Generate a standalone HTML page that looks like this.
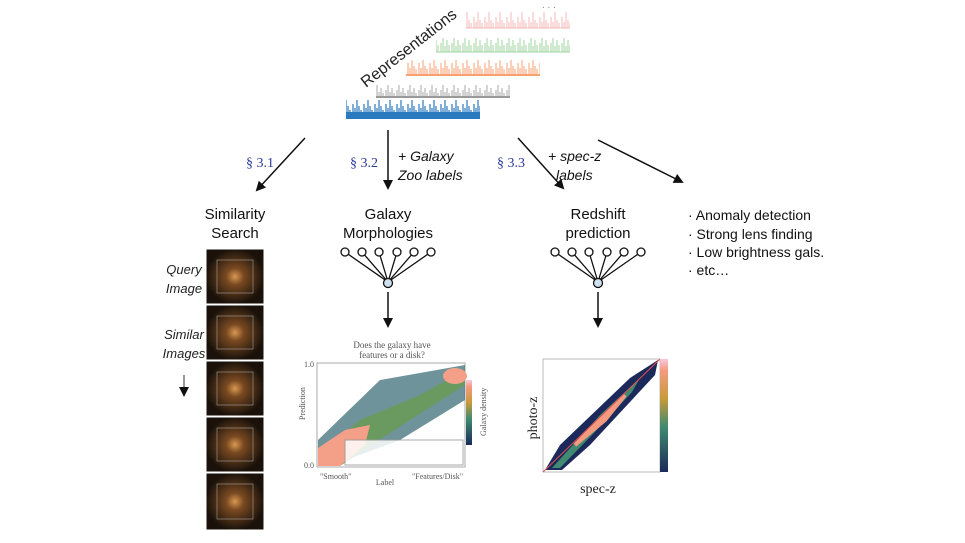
<!DOCTYPE html><html><head><style>body{margin:0;background:#fff}svg{display:block}</style></head><body>
<svg width="965" height="543" viewBox="0 0 965 543" xmlns="http://www.w3.org/2000/svg" font-family="Liberation Sans, sans-serif">
<defs>
<marker id="a" markerWidth="10" markerHeight="10" refX="8" refY="5" orient="auto" markerUnits="userSpaceOnUse"><path d="M0,0 L10,5 L0,10 z" fill="#111"/></marker>
<pattern id="p1" x="0" y="8" width="11" height="20" patternUnits="userSpaceOnUse"><path d="M1,20V9M3,20V14M5,20V4M7,20V12M9,20V15" stroke="#f4b8b8" stroke-width="1"/></pattern>
<pattern id="p2" x="0" y="32" width="11" height="20" patternUnits="userSpaceOnUse"><path d="M1,20V11M3,20V6M5,20V14M7,20V8M9,20V13" stroke="#9fd49f" stroke-width="1"/></pattern>
<pattern id="p3" x="0" y="55" width="11" height="20" patternUnits="userSpaceOnUse"><path d="M1,20V8M3,20V13M5,20V5M7,20V11M9,20V14" stroke="#f9a070" stroke-width="1"/></pattern>
<pattern id="p4" x="0" y="78" width="11" height="20" patternUnits="userSpaceOnUse"><path d="M1,20V12M3,20V7M5,20V14M7,20V10M9,20V15" stroke="#aaa" stroke-width="1"/></pattern>
<pattern id="p5" x="0" y="96" width="11" height="22" patternUnits="userSpaceOnUse"><path d="M1,22V8M3,22V12M5,22V4M7,22V10M9,22V14" stroke="#2a7ac0" stroke-width="1.2"/></pattern>
<linearGradient id="cb" x1="0" y1="1" x2="0" y2="0"><stop offset="0" stop-color="#1b2a5a"/><stop offset=".4" stop-color="#3f8a70"/><stop offset=".65" stop-color="#c99a3a"/><stop offset=".9" stop-color="#f49a80"/><stop offset="1" stop-color="#f8c8e0"/></linearGradient>
<radialGradient id="gal"><stop offset="0" stop-color="#d89850"/><stop offset=".3" stop-color="#7a4a22"/><stop offset="1" stop-color="#1a120a"/></radialGradient>
</defs>
<!-- spectra -->
<rect x="466" y="8" width="104" height="20" fill="url(#p1)"/><line x1="466" y1="28" x2="570" y2="28" stroke="#f4b8b8"/>
<rect x="436" y="32" width="134" height="20" fill="url(#p2)"/><line x1="436" y1="52" x2="570" y2="52" stroke="#9fd49f"/>
<rect x="406" y="55" width="134" height="20" fill="url(#p3)"/><line x1="406" y1="75" x2="540" y2="75" stroke="#f9a070" stroke-width="2"/>
<rect x="376" y="78" width="134" height="20" fill="url(#p4)"/><line x1="376" y1="97" x2="510" y2="97" stroke="#999" stroke-width="2"/>
<rect x="346" y="96" width="134" height="22" fill="url(#p5)"/><rect x="346" y="112" width="134" height="7" fill="#2a7ac0"/>
<text x="542" y="8" font-size="10" fill="#888">. . .</text>
<text transform="translate(366,88) rotate(-38)" font-size="16" fill="#222">Representations</text>
<!-- arrows -->
<g stroke="#111" stroke-width="1.5" marker-end="url(#a)">
<line x1="305" y1="138" x2="257" y2="190"/><line x1="388" y1="130" x2="388" y2="188"/><line x1="518" y1="138" x2="563" y2="188"/><line x1="598" y1="140" x2="682" y2="182"/>
<line x1="388" y1="292" x2="388" y2="326"/><line x1="598" y1="292" x2="598" y2="326"/>
</g>
<g font-family="Liberation Serif, serif" font-size="14" fill="#2a3a9a"><text x="246" y="167">§ 3.1</text><text x="350" y="167">§ 3.2</text><text x="497" y="167">§ 3.3</text></g>
<g font-size="14" font-style="italic" fill="#111"><text x="398" y="161">+ Galaxy</text><text x="398" y="180">Zoo labels</text><text x="548" y="161">+ spec-z</text><text x="556" y="180">labels</text></g>
<g font-size="15" fill="#111" text-anchor="middle"><text x="235" y="219">Similarity</text><text x="235" y="238">Search</text><text x="388" y="219">Galaxy</text><text x="388" y="238">Morphologies</text><text x="598" y="219">Redshift</text><text x="598" y="238">prediction</text></g>
<g font-size="14" fill="#111"><text x="688" y="220">· Anomaly detection</text><text x="688" y="239">· Strong lens finding</text><text x="688" y="257">· Low brightness gals.</text><text x="688" y="275">· etc…</text></g>
<g font-size="13" font-style="italic" fill="#222" text-anchor="middle"><text x="184" y="274">Query</text><text x="184" y="293">Image</text><text x="184" y="339">Similar</text><text x="184" y="358">Images</text></g>
<line x1="184" y1="375" x2="184" y2="395" stroke="#333" marker-end="url(#a)"/>
<!-- galaxies -->
<g stroke="#fff" stroke-width="1">
<rect x="206" y="249" width="58" height="55" fill="url(#gal)"/><rect x="206" y="305" width="58" height="55" fill="url(#gal)"/><rect x="206" y="361" width="58" height="55" fill="url(#gal)"/><rect x="206" y="417" width="58" height="55" fill="url(#gal)"/><rect x="206" y="473" width="58" height="57" fill="url(#gal)"/>
</g>
<g fill="none" stroke="#bbb" stroke-width=".7" opacity=".7">
<rect x="217" y="260" width="36" height="33"/><rect x="217" y="316" width="36" height="33"/><rect x="217" y="372" width="36" height="33"/><rect x="217" y="428" width="36" height="33"/><rect x="217" y="484" width="36" height="35"/>
</g>
<!-- networks -->
<g fill="#fff" stroke="#111" stroke-width="1.3">
<g id="nn"><path d="M345,252L388,282M362,252L388,282M379,252L388,282M397,252L388,282M414,252L388,282M431,252L388,282" fill="none"/>
<circle cx="345" cy="252" r="4"/><circle cx="362" cy="252" r="4"/><circle cx="379" cy="252" r="4"/><circle cx="397" cy="252" r="4"/><circle cx="414" cy="252" r="4"/><circle cx="431" cy="252" r="4"/><circle cx="388" cy="283" r="4.5" fill="#cfe0f0"/></g>
<use href="#nn" x="210"/>
</g>
<!-- left plot -->
<text x="392" y="348" font-family="Liberation Serif, serif" font-size="9" fill="#555" text-anchor="middle">Does the galaxy have</text>
<text x="392" y="358" font-family="Liberation Serif, serif" font-size="9" fill="#555" text-anchor="middle">features or a disk?</text>
<rect x="317" y="363" width="148" height="104" fill="#fff" stroke="#aaa"/>
<path d="M318,440 L380,380 L465,365 L465,400 L400,440 L330,466 L318,466z" fill="#3f6f78" opacity=".75"/>
<path d="M318,455 L360,420 L420,395 L465,370 L465,385 L410,420 L340,466 L318,466z" fill="#6a9a60"/>
<path d="M318,466 L318,448 L345,430 L370,425 L365,445 L340,466z" fill="#f4a088"/>
<ellipse cx="455" cy="376" rx="12" ry="8" fill="#f4a088"/>
<rect x="345" y="440" width="118" height="25" fill="#fff" opacity=".85" stroke="#999"/>
<rect x="466" y="380" width="6" height="65" fill="url(#cb)"/>
<g font-family="Liberation Serif, serif" font-size="8" fill="#555"><text x="304" y="367">1.0</text><text x="304" y="468">0.0</text><text x="305" y="420" transform="rotate(-90 305 420)">Prediction</text><text x="385" y="485" text-anchor="middle">Label</text><text x="320" y="479">"Smooth"</text><text x="412" y="479">"Features/Disk"</text><text x="490" y="440" transform="rotate(-90 486 440)">Galaxy density</text></g>
<!-- right plot -->
<rect x="543" y="359" width="117" height="113" fill="#fff" stroke="#bbb"/>
<path d="M545,470 L560,445 L630,378 L658,360 L655,375 L590,445 L562,470z" fill="#1b2a5a"/>
<path d="M552,468 L600,415 L640,378 L632,392 L592,435 L560,468z" fill="#3f8a70"/>
<path d="M575,445 L610,410 L625,395 L605,420z" stroke="#f49a80" stroke-width="4"/>
<line x1="543" y1="472" x2="660" y2="359" stroke="#e05050" stroke-width="1"/>
<rect x="660" y="359" width="8" height="113" fill="url(#cb)"/>
<text x="598" y="493" font-family="Liberation Serif, serif" font-size="14" text-anchor="middle" fill="#222">spec-z</text>
<text x="537" y="418" font-family="Liberation Serif, serif" font-size="14" text-anchor="middle" fill="#222" transform="rotate(-90 537 418)">photo-z</text>
</svg>
</body></html>
